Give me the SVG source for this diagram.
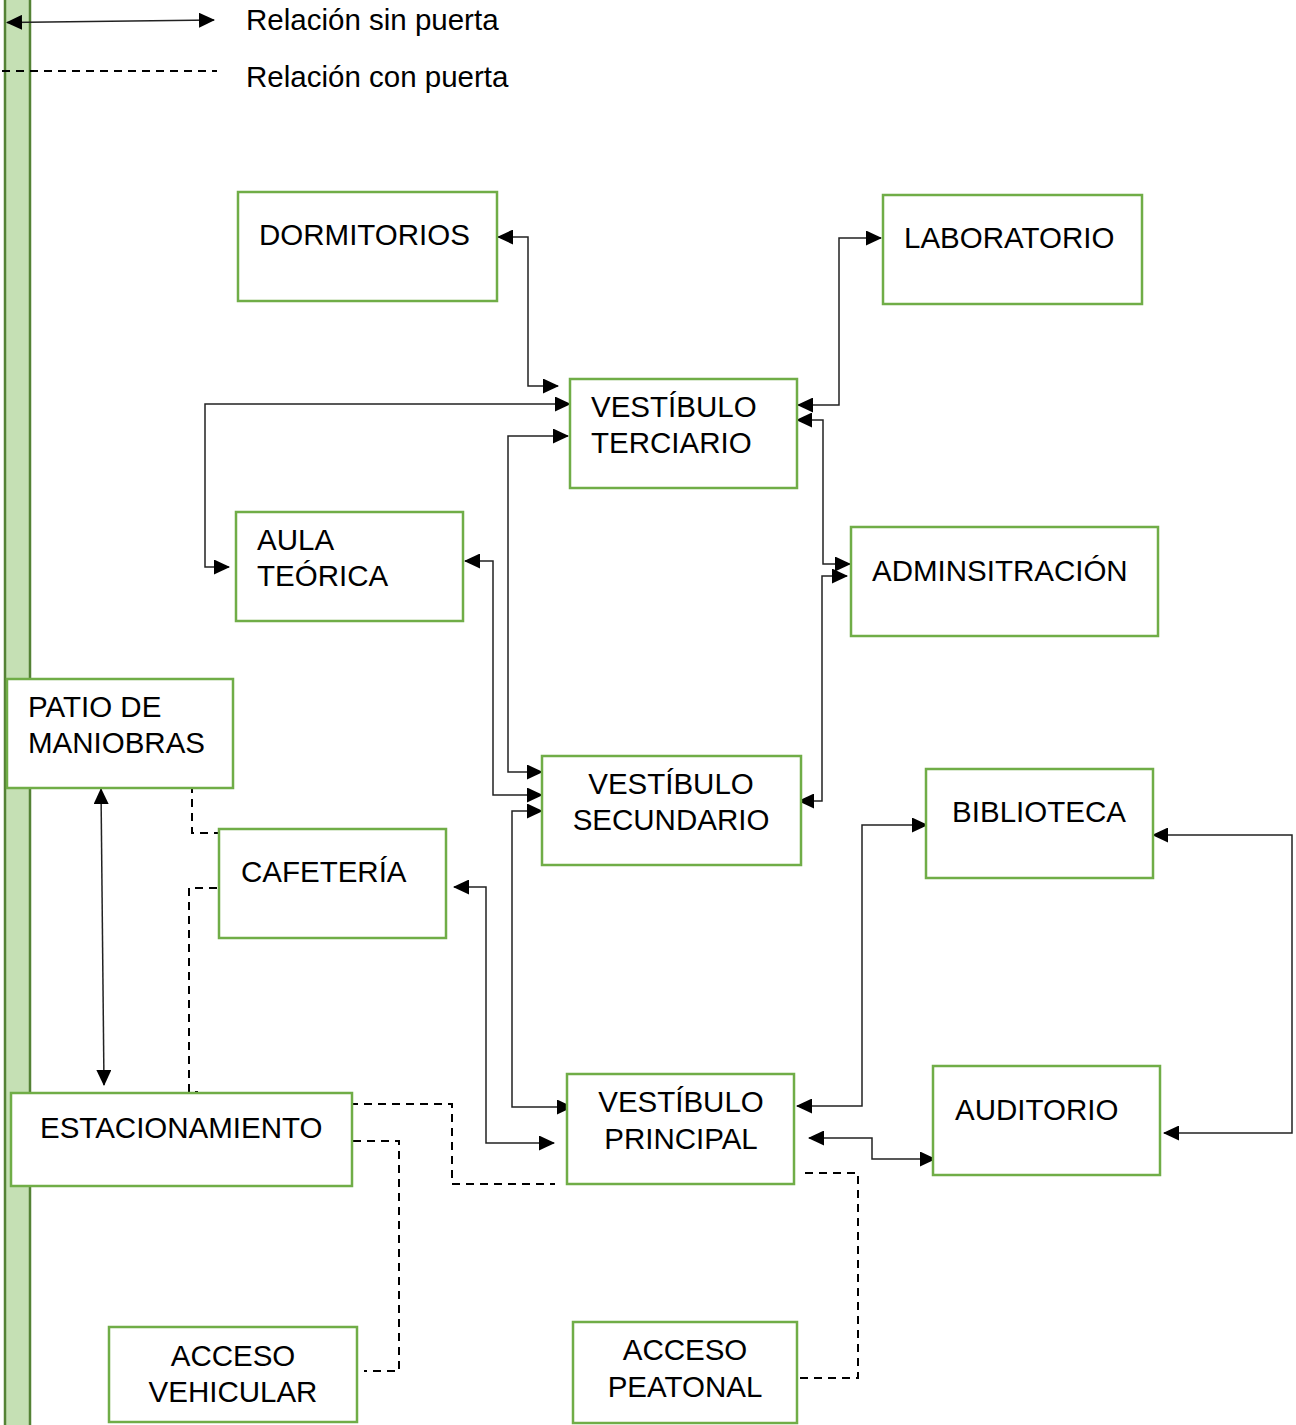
<svg xmlns="http://www.w3.org/2000/svg" width="1296" height="1425" viewBox="0 0 1296 1425">
<style>
.box{fill:#fff;stroke:#70ad47;stroke-width:2.5}
.t{font-family:"Liberation Sans",Arial,sans-serif;font-size:29.5px;fill:#000}
.c{text-anchor:middle}
.ln{fill:none;stroke:#222;stroke-width:1.5;marker-start:url(#ah);marker-end:url(#ah)}
.dl{fill:none;stroke:#000;stroke-width:2;stroke-dasharray:8,6}
</style>
<defs>
<marker id="ah" markerUnits="userSpaceOnUse" markerWidth="16" markerHeight="15" viewBox="0 0 16 15" refX="15" refY="7.5" orient="auto-start-reverse">
<path d="M0,0 L16,7.5 L0,15 z" fill="#000"/>
</marker>
</defs>
<rect x="0" y="0" width="1296" height="1425" fill="#fff"/>
<rect id="bar" x="5" y="-5" width="25" height="1440" fill="#c5e0b4" stroke="#548235" stroke-width="2.5"/>
<g id="legend">
<path class="ln" d="M7,22.5 L214,20"/>
<path class="dl" d="M2,71 H217"/>
<text class="t" x="246" y="30">Relación sin puerta</text>
<text class="t" x="246" y="87">Relación con puerta</text>
</g>
<g id="connectors">
<path class="ln" d="M498,237 H528 V386 H558"/>
<path class="ln" d="M798,405 H839 V238 H881"/>
<path class="ln" d="M797,420 H823 V564 H850"/>
<path class="ln" d="M799,801 H822 V576 H847"/>
<path class="ln" d="M229,567 H205 V404 H570"/>
<path class="ln" d="M568,436 H508 V772 H542"/>
<path class="ln" d="M465,561 H493 V795 H542"/>
<path class="ln" d="M542,811 H512 V1107 H572"/>
<path class="ln" d="M454,887 H486 V1143 H554"/>
<path class="ln" d="M101,789 L104,1085"/>
<path class="ln" d="M797,1106 H862 V825 H927"/>
<path class="ln" d="M809,1138 H872 V1159 H935"/>
<path class="ln" d="M1153,835 H1292 V1133 H1164"/>
<path class="dl" d="M166,783 H192 V833 H219"/>
<path class="dl" d="M217,888 H189 V1092 H198"/>
<path class="dl" d="M350,1104 H452 V1184 H555"/>
<path class="dl" d="M353,1141 H399 V1371 H364"/>
<path class="dl" d="M805,1173 H858 V1378 H800"/>
</g>
<g id="dormitorios"><rect class="box" x="238" y="192" width="259" height="109"/><text class="t" x="259" y="245">DORMITORIOS</text></g>
<g id="laboratorio"><rect class="box" x="883" y="195" width="259" height="109"/><text class="t" x="904" y="248">LABORATORIO</text></g>
<g id="vestibulo-terciario"><rect class="box" x="570" y="379" width="227" height="109"/><text class="t" x="591" y="417">VESTÍBULO</text><text class="t" x="591" y="453">TERCIARIO</text></g>
<g id="aula-teorica"><rect class="box" x="236" y="512" width="227" height="109"/><text class="t" x="257" y="550">AULA</text><text class="t" x="257" y="586">TEÓRICA</text></g>
<g id="administracion"><rect class="box" x="851" y="527" width="307" height="109"/><text class="t" x="872" y="581">ADMINSITRACIÓN</text></g>
<g id="patio"><rect class="box" x="7" y="679" width="226" height="109"/><text class="t" x="28" y="717">PATIO DE</text><text class="t" x="28" y="753">MANIOBRAS</text></g>
<g id="vestibulo-secundario"><rect class="box" x="542" y="756" width="259" height="109"/><text class="t c" x="671" y="794">VESTÍBULO</text><text class="t c" x="671" y="830">SECUNDARIO</text></g>
<g id="biblioteca"><rect class="box" x="926" y="769" width="227" height="109"/><text class="t c" x="1039" y="822">BIBLIOTECA</text></g>
<g id="cafeteria"><rect class="box" x="219" y="829" width="227" height="109"/><text class="t" x="241" y="882">CAFETERÍA</text></g>
<g id="vestibulo-principal"><rect class="box" x="567" y="1074" width="227" height="110"/><text class="t c" x="681" y="1112">VESTÍBULO</text><text class="t c" x="681" y="1149">PRINCIPAL</text></g>
<g id="auditorio"><rect class="box" x="933" y="1066" width="227" height="109"/><text class="t" x="955" y="1120">AUDITORIO</text></g>
<g id="estacionamiento"><rect class="box" x="11" y="1093" width="341" height="93"/><text class="t" x="40" y="1138">ESTACIONAMIENTO</text></g>
<g id="acceso-vehicular"><rect class="box" x="109" y="1327" width="248" height="95"/><text class="t c" x="233" y="1366">ACCESO</text><text class="t c" x="233" y="1402">VEHICULAR</text></g>
<g id="acceso-peatonal"><rect class="box" x="573" y="1322" width="224" height="101"/><text class="t c" x="685" y="1360">ACCESO</text><text class="t c" x="685" y="1397">PEATONAL</text></g>
</svg>
